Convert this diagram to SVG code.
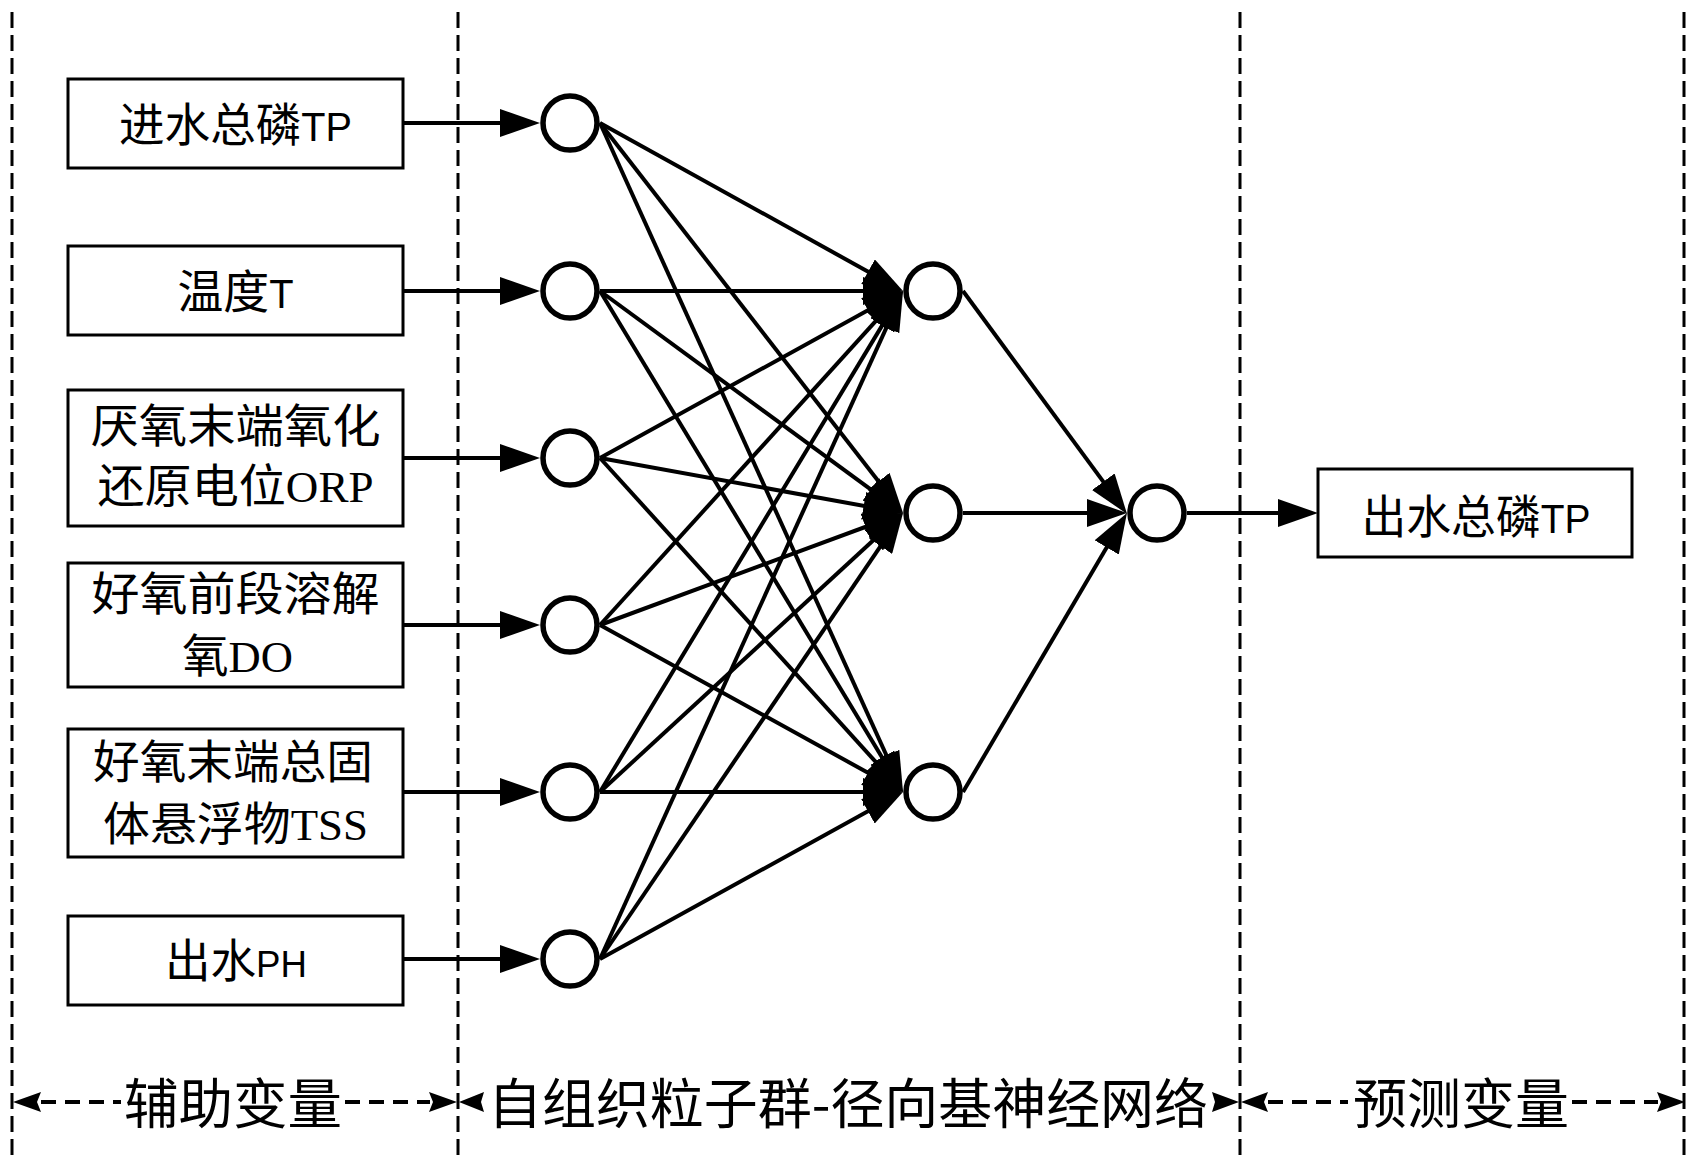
<svg xmlns="http://www.w3.org/2000/svg" width="1705" height="1174" viewBox="0 0 1705 1174">
<style>
.sep{stroke:#000;stroke-width:3;stroke-dasharray:16 7;fill:none}
.dash{stroke:#000;stroke-width:4;stroke-dasharray:15 9;fill:none}
.box{fill:#fff;stroke:#000;stroke-width:3}
.node{fill:#fff;stroke:#000;stroke-width:5.5}
.edge{stroke:#000;stroke-width:4;fill:none;marker-end:url(#ah)}
.ah{fill:#000;stroke:none}
.t{font-family:'Noto Sans CJK SC',sans-serif;font-size:46px;fill:#000;text-anchor:middle}
.ls{font-family:'Liberation Sans','Noto Sans CJK SC',sans-serif;font-size:40px}
.ls2{font-family:'Liberation Sans','Noto Sans CJK SC',sans-serif;font-size:37px}
.lr{font-family:'Liberation Serif','Noto Sans CJK SC',serif;font-size:44px}
.b{font-family:'Noto Sans CJK SC',sans-serif;font-size:54px;fill:#000;text-anchor:middle}
</style>
<defs>
<marker id="ah" markerUnits="userSpaceOnUse" markerWidth="40" markerHeight="28" refX="30" refY="14" orient="auto" viewBox="0 0 40 28"><path d="M0,0 L40,14 L0,28 z" fill="#000"/></marker>
</defs>
<rect x="0" y="0" width="1705" height="1174" fill="#fff"/>

<g id="separators">
<line class="sep" x1="12" y1="12" x2="12" y2="1160"/>
<line class="sep" x1="458" y1="12" x2="458" y2="1160"/>
<line class="sep" x1="1240" y1="12" x2="1240" y2="1160"/>
<line class="sep" x1="1684" y1="12" x2="1684" y2="1160"/>
</g>

<g id="connectors">
<line class="edge" x1="403" y1="123" x2="530" y2="123"/>
<line class="edge" x1="403" y1="291" x2="530" y2="291"/>
<line class="edge" x1="403" y1="458" x2="530" y2="458"/>
<line class="edge" x1="403" y1="625" x2="530" y2="625"/>
<line class="edge" x1="403" y1="792" x2="530" y2="792"/>
<line class="edge" x1="403" y1="959" x2="530" y2="959"/>

<line class="edge" x1="600" y1="123" x2="894.3" y2="286.2"/>
<line class="edge" x1="600" y1="291" x2="893" y2="291"/>
<line class="edge" x1="600" y1="458" x2="894.2" y2="295.8"/>
<line class="edge" x1="600" y1="625" x2="896.3" y2="298.4"/>
<line class="edge" x1="600" y1="792" x2="897.8" y2="299.6"/>
<line class="edge" x1="600" y1="959" x2="898.9" y2="300.1"/>

<line class="edge" x1="600" y1="123" x2="896.9" y2="505.1"/>
<line class="edge" x1="600" y1="291" x2="894.9" y2="507.1"/>
<line class="edge" x1="600" y1="458" x2="893.2" y2="511.2"/>
<line class="edge" x1="600" y1="625" x2="893.6" y2="516.5"/>
<line class="edge" x1="600" y1="792" x2="895.6" y2="519.8"/>
<line class="edge" x1="600" y1="959" x2="897.4" y2="521.3"/>

<line class="edge" x1="600" y1="123" x2="898.9" y2="782.9"/>
<line class="edge" x1="600" y1="291" x2="897.8" y2="783.4"/>
<line class="edge" x1="600" y1="458" x2="896.3" y2="784.6"/>
<line class="edge" x1="600" y1="625" x2="894.2" y2="787.2"/>
<line class="edge" x1="600" y1="792" x2="893" y2="792"/>
<line class="edge" x1="600" y1="959" x2="894.2" y2="796.8"/>

<line class="edge" x1="963" y1="291" x2="1121.1" y2="505.9"/>
<line class="edge" x1="963" y1="513" x2="1117" y2="513"/>
<line class="edge" x1="963" y1="792" x2="1121.9" y2="521.6"/>

<line class="edge" x1="1187" y1="513" x2="1308" y2="513"/>
</g>

<g id="inputs">
<g id="in1"><rect class="box" x="68" y="79" width="335" height="89"/><text class="t" x="235.5" y="140.5" textLength="233" lengthAdjust="spacingAndGlyphs">进水总磷<tspan class="ls">TP</tspan></text></g>
<g id="in2"><rect class="box" x="68" y="246" width="335" height="89"/><text class="t" x="235.5" y="308" textLength="116" lengthAdjust="spacingAndGlyphs">温度<tspan class="ls">T</tspan></text></g>
<g id="in3"><rect class="box" x="68" y="390" width="335" height="136"/><text class="t" x="235.5" y="441.5" textLength="290" lengthAdjust="spacingAndGlyphs">厌氧末端氧化</text><text class="t" x="235.5" y="501.5" textLength="276" lengthAdjust="spacingAndGlyphs">还原电位<tspan class="lr">ORP</tspan></text></g>
<g id="in4"><rect class="box" x="68" y="563" width="335" height="124"/><text class="t" x="235.5" y="609.5" textLength="288" lengthAdjust="spacingAndGlyphs">好氧前段溶解</text><text class="t" x="237.5" y="671.5" textLength="111" lengthAdjust="spacingAndGlyphs">氧<tspan class="lr">DO</tspan></text></g>
<g id="in5"><rect class="box" x="68" y="729" width="335" height="128"/><text class="t" x="233" y="777.5" textLength="280" lengthAdjust="spacingAndGlyphs">好氧末端总固</text><text class="t" x="235.5" y="839.5" textLength="265" lengthAdjust="spacingAndGlyphs">体悬浮物<tspan class="lr">TSS</tspan></text></g>
<g id="in6"><rect class="box" x="68" y="916" width="335" height="89"/><text class="t" x="236" y="976.5" textLength="142" lengthAdjust="spacingAndGlyphs">出水<tspan class="ls2">PH</tspan></text></g>
</g>

<g id="input-layer">
<circle class="node" cx="570" cy="123" r="27"/>
<circle class="node" cx="570" cy="291" r="27"/>
<circle class="node" cx="570" cy="458" r="27"/>
<circle class="node" cx="570" cy="625" r="27"/>
<circle class="node" cx="570" cy="792" r="27"/>
<circle class="node" cx="570" cy="959" r="27"/>
</g>
<g id="hidden-layer">
<circle class="node" cx="933" cy="291" r="27"/>
<circle class="node" cx="933" cy="513" r="27"/>
<circle class="node" cx="933" cy="792" r="27"/>
</g>
<g id="output-node">
<circle class="node" cx="1157" cy="513" r="27"/>
</g>
<g id="output">
<rect class="box" x="1318" y="469" width="314" height="88"/>
<text class="t" x="1476" y="532.5" textLength="229" lengthAdjust="spacingAndGlyphs">出水总磷<tspan class="ls">TP</tspan></text>
</g>

<g id="section-labels">
<path class="ah" d="M13,1102 L41,1092 L37,1102 L41,1112 z"/>
<line class="dash" x1="41" y1="1102" x2="121" y2="1102"/>
<text class="b" x="233" y="1123.5" textLength="218" lengthAdjust="spacingAndGlyphs">辅助变量</text>
<line class="dash" x1="345" y1="1102" x2="430" y2="1102"/>
<path class="ah" d="M457,1102 L429,1092 L433,1102 L429,1112 z"/>

<path class="ah" d="M459,1102 L484,1092 L481,1102 L484,1112 z"/>
<text class="b" x="848" y="1123.5" textLength="720" lengthAdjust="spacingAndGlyphs">自组织粒子群-径向基神经网络</text>
<path class="ah" d="M1239,1102 L1212,1092 L1215,1102 L1212,1112 z"/>

<path class="ah" d="M1241,1102 L1268,1092 L1264,1102 L1268,1112 z"/>
<line class="dash" x1="1268" y1="1102" x2="1348" y2="1102"/>
<text class="b" x="1461" y="1123.5" textLength="216" lengthAdjust="spacingAndGlyphs">预测变量</text>
<line class="dash" x1="1572" y1="1102" x2="1658" y2="1102"/>
<path class="ah" d="M1685,1102 L1657,1092 L1661,1102 L1657,1112 z"/>
</g>
</svg>
